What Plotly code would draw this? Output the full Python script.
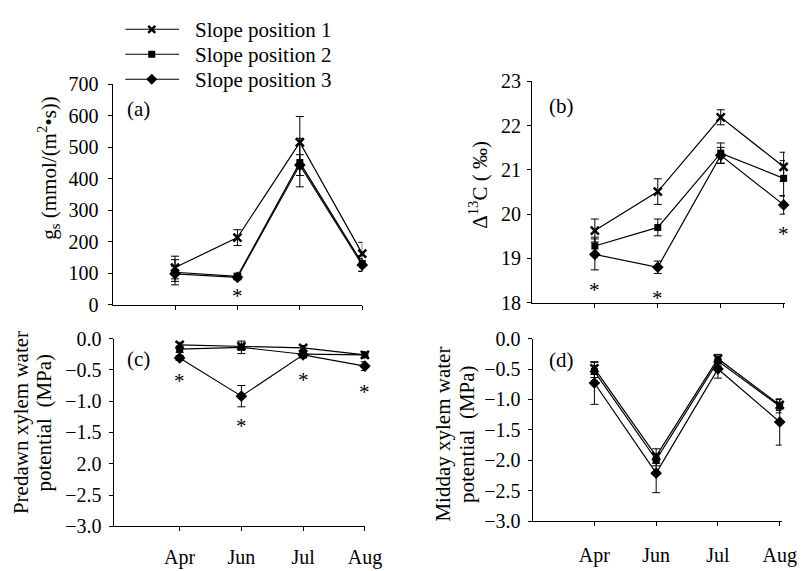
import plotly.graph_objects as go

W, H = 812, 571
FONT = "Liberation Serif"

months = ["Apr", "Jun", "Jul", "Aug"]
xpos = [1, 2, 3, 4]
series_names = ["Slope position 1", "Slope position 2", "Slope position 3"]

# (a) stomatal conductance gs
gs_sp1 = [118, 213, 515, 162]
gs_sp2 = [103, 90, 451, 131]
gs_sp3 = [98, 87, 443, 126]
gs_err1 = [36, 25, 82, 36]
gs_err2 = [40, 10, 77, 25]
gs_err3 = [24, 8, 33, 20]

# (b) carbon isotope discrimination
d13_sp1 = [19.63, 20.51, 22.19, 21.07]
d13_sp2 = [19.28, 19.70, 21.38, 20.81]
d13_sp3 = [19.09, 18.80, 21.33, 20.21]
d13_err1 = [0.26, 0.29, 0.17, 0.33]
d13_err2 = [0.20, 0.19, 0.23, 0.40]
d13_err3 = [0.35, 0.14, 0.18, 0.21]

# (c) predawn xylem water potential
pd_sp1 = [-0.10, -0.12, -0.15, -0.26]
pd_sp2 = [-0.17, -0.14, -0.25, -0.26]
pd_sp3 = [-0.31, -0.92, -0.26, -0.44]
pd_err1 = [0.04, 0.03, 0.04, 0.04]
pd_err2 = [0.05, 0.10, 0.05, 0.05]
pd_err3 = [0.04, 0.17, 0.05, 0.07]

# (d) midday xylem water potential
md_sp1 = [-0.49, -1.93, -0.33, -1.09]
md_sp2 = [-0.54, -1.99, -0.37, -1.11]
md_sp3 = [-0.73, -2.21, -0.50, -1.37]
md_err1 = [0.10, 0.12, 0.07, 0.09]
md_err2 = [0.10, 0.10, 0.08, 0.11]
md_err3 = [0.35, 0.32, 0.15, 0.38]

# significance asterisks (month index, value where drawn)
sig_a = [(2, 42)]
sig_b = [(1, 18.40), (2, 18.22), (4, 19.66)]
sig_c = [(1, -0.60), (2, -1.31), (3, -0.58), (4, -0.77)]

ticks_a = [0, 100, 200, 300, 400, 500, 600, 700]
ticks_b = [18, 19, 20, 21, 22, 23]
ticks_cd = [0.0, -0.5, -1.0, -1.5, -2.0, -2.5, -3.0]
ticktext_c = ["0.0", "\u22120.5", "\u22121.0", "\u22121.5", "2.0", "\u22122.5", "\u22123.0"]
ticktext_d = ["0.0", "\u22120.5", "\u22121.0", "\u22121.5", "\u22122.0", "\u22122.5", "\u22123.0"]

msizes = [8, 7, 9]


def px(x):
    return x / W


def py(y):
    return 1 - y / H


fig = go.Figure()

panels = [
    ("x", "y", [gs_sp1, gs_sp2, gs_sp3], [gs_err1, gs_err2, gs_err3]),
    ("x2", "y2", [d13_sp1, d13_sp2, d13_sp3], [d13_err1, d13_err2, d13_err3]),
    ("x3", "y3", [pd_sp1, pd_sp2, pd_sp3], [pd_err1, pd_err2, pd_err3]),
    ("x4", "y4", [md_sp1, md_sp2, md_sp3], [md_err1, md_err2, md_err3]),
]

for xa, ya, vals, errs in panels:
    for i in range(3):
        if i == 0:
            mk = dict(symbol="x-thin-open", size=8, color="black", line=dict(width=2.5, color="black"))
        elif i == 1:
            mk = dict(symbol="square", size=msizes[1], color="black")
        else:
            mk = dict(symbol="diamond", size=msizes[2], color="black")
        fig.add_trace(go.Scatter(
            x=xpos, y=vals[i], xaxis=xa, yaxis=ya,
            mode="lines+markers", name=series_names[i], showlegend=False,
            line=dict(color="black", width=1.2),
            marker=mk,
            error_y=dict(type="data", array=errs[i], visible=True,
                         color="black", thickness=1, width=4),
            cliponaxis=False,
        ))

axis_common = dict(showgrid=False, zeroline=False, showline=True, linecolor="black",
                   linewidth=1, ticks="outside", ticklen=4, tickcolor="black",
                   tickwidth=1, tickfont=dict(family=FONT, size=20, color="black"))

layout = dict(
    width=W, height=H, margin=dict(l=0, r=0, t=0, b=0),
    paper_bgcolor="white", plot_bgcolor="white", showlegend=False,
    font=dict(family=FONT, size=20, color="black"),
)

# panel (a)
layout["xaxis"] = dict(axis_common, domain=[px(115), px(370)], range=[0, 4],
                       tickvals=xpos, showticklabels=False, anchor="y")
layout["yaxis"] = dict(axis_common, domain=[py(305.5), py(76)], range=[0, 700],
                       tickvals=ticks_a, anchor="x", ticklabelstandoff=5)
# panel (b)
layout["xaxis2"] = dict(axis_common, domain=[px(543.3), px(801.7)], range=[0, 4.02],
                        tickvals=xpos, showticklabels=False, anchor="y2")
layout["yaxis2"] = dict(axis_common, domain=[py(303.3), py(73.3)], range=[18, 23],
                        tickvals=ticks_b, anchor="x2", ticklabelstandoff=2)
# panel (c)
layout["xaxis3"] = dict(axis_common, domain=[px(116), px(372.7)], range=[-0.07, 4],
                        tickvals=xpos, ticktext=months, anchor="y3", ticklabelstandoff=9)
layout["yaxis3"] = dict(axis_common, domain=[py(536), py(340.7)], range=[-3, 0],
                        tickvals=ticks_cd, ticktext=ticktext_c, anchor="x3", ticklabelstandoff=3)
# panel (d)
layout["xaxis4"] = dict(axis_common, domain=[px(544), px(798.3)], range=[0, 4.03],
                        tickvals=xpos, ticktext=months, anchor="y4", ticklabelstandoff=12)
layout["yaxis4"] = dict(axis_common, domain=[py(530.7), py(340.7)], range=[-3, 0],
                        tickvals=ticks_cd, ticktext=ticktext_d, anchor="x4", ticklabelstandoff=3)

fig.update_layout(**layout)

annotations = []
# asterisks
for refs, sig in (("a", sig_a), ("b", sig_b), ("c", sig_c)):
    xr = {"a": "x", "b": "x2", "c": "x3"}[refs]
    yr = {"a": "y", "b": "y2", "c": "y3"}[refs]
    for (m, v) in sig:
        annotations.append(dict(x=m, y=v, xref=xr, yref=yr, text="*", showarrow=False,
                                font=dict(family=FONT, size=21, color="black"),
                                xanchor="center", yanchor="middle", yshift=-5))

# panel labels
for lab, xx, yy in (("(a)", 141, 102), ("(b)", 573, 99), ("(c)", 141, 362), ("(d)", 573, 363)):
    annotations.append(dict(x=px(xx), y=py(yy), xref="paper", yref="paper", text=lab,
                            showarrow=False, xanchor="center", yanchor="middle",
                            font=dict(family=FONT, size=21, color="black")))

# axis titles
titles = [
    ("g<sub>s</sub> (mmol/(m<sup>2</sup>\u2022s))", 50, 163),
    ("\u0394<sup>13</sup>C ( \u2030)", 488, 181),
    ("Predawn xylem water", 21, 428),
    ("potential \u00a0(MPa)", 44, 428),
    ("Midday xylem water", 453, 440),
    ("potential \u00a0(MPa)", 477, 440),
]
for t, xx, yy in titles:
    annotations.append(dict(x=px(xx), y=py(yy), xref="paper", yref="paper", text=t,
                            showarrow=False, textangle=-90, xanchor="center", yanchor="middle",
                            font=dict(family=FONT, size=21, color="black")))

# custom legend
leg_rows = [19, 45, 71]
shapes = []
for i, ry in enumerate(leg_rows):
    shapes.append(dict(type="line", xref="paper", yref="paper", x0=px(128), x1=px(183),
                       y0=py(ry), y1=py(ry), line=dict(color="black", width=1.2)))
    annotations.append(dict(x=px(197), y=py(ry + 1), xref="paper", yref="paper",
                            text=series_names[i], showarrow=False, xanchor="left", yanchor="middle",
                            font=dict(family=FONT, size=21, color="black")))
# legend markers
mx = px(155)
shapes.append(dict(type="path", xref="paper", yref="paper", xsizemode="pixel", ysizemode="pixel",
                   xanchor=mx, yanchor=py(leg_rows[0]),
                   path="M-3.5,-3.5L3.5,3.5M-3.5,3.5L3.5,-3.5", line=dict(color="black", width=2.5)))
shapes.append(dict(type="rect", xref="paper", yref="paper", xsizemode="pixel", ysizemode="pixel",
                   xanchor=mx, yanchor=py(leg_rows[1]), x0=-3.5, x1=3.5, y0=-3.5, y1=3.5,
                   fillcolor="black", line=dict(color="black", width=0)))
shapes.append(dict(type="path", xref="paper", yref="paper", xsizemode="pixel", ysizemode="pixel",
                   xanchor=mx, yanchor=py(leg_rows[2]),
                   path="M-5.5,0L0,5.5L5.5,0L0,-5.5Z", fillcolor="black",
                   line=dict(color="black", width=0)))

fig.update_layout(annotations=annotations, shapes=shapes)
fig.write_html("out.html")
